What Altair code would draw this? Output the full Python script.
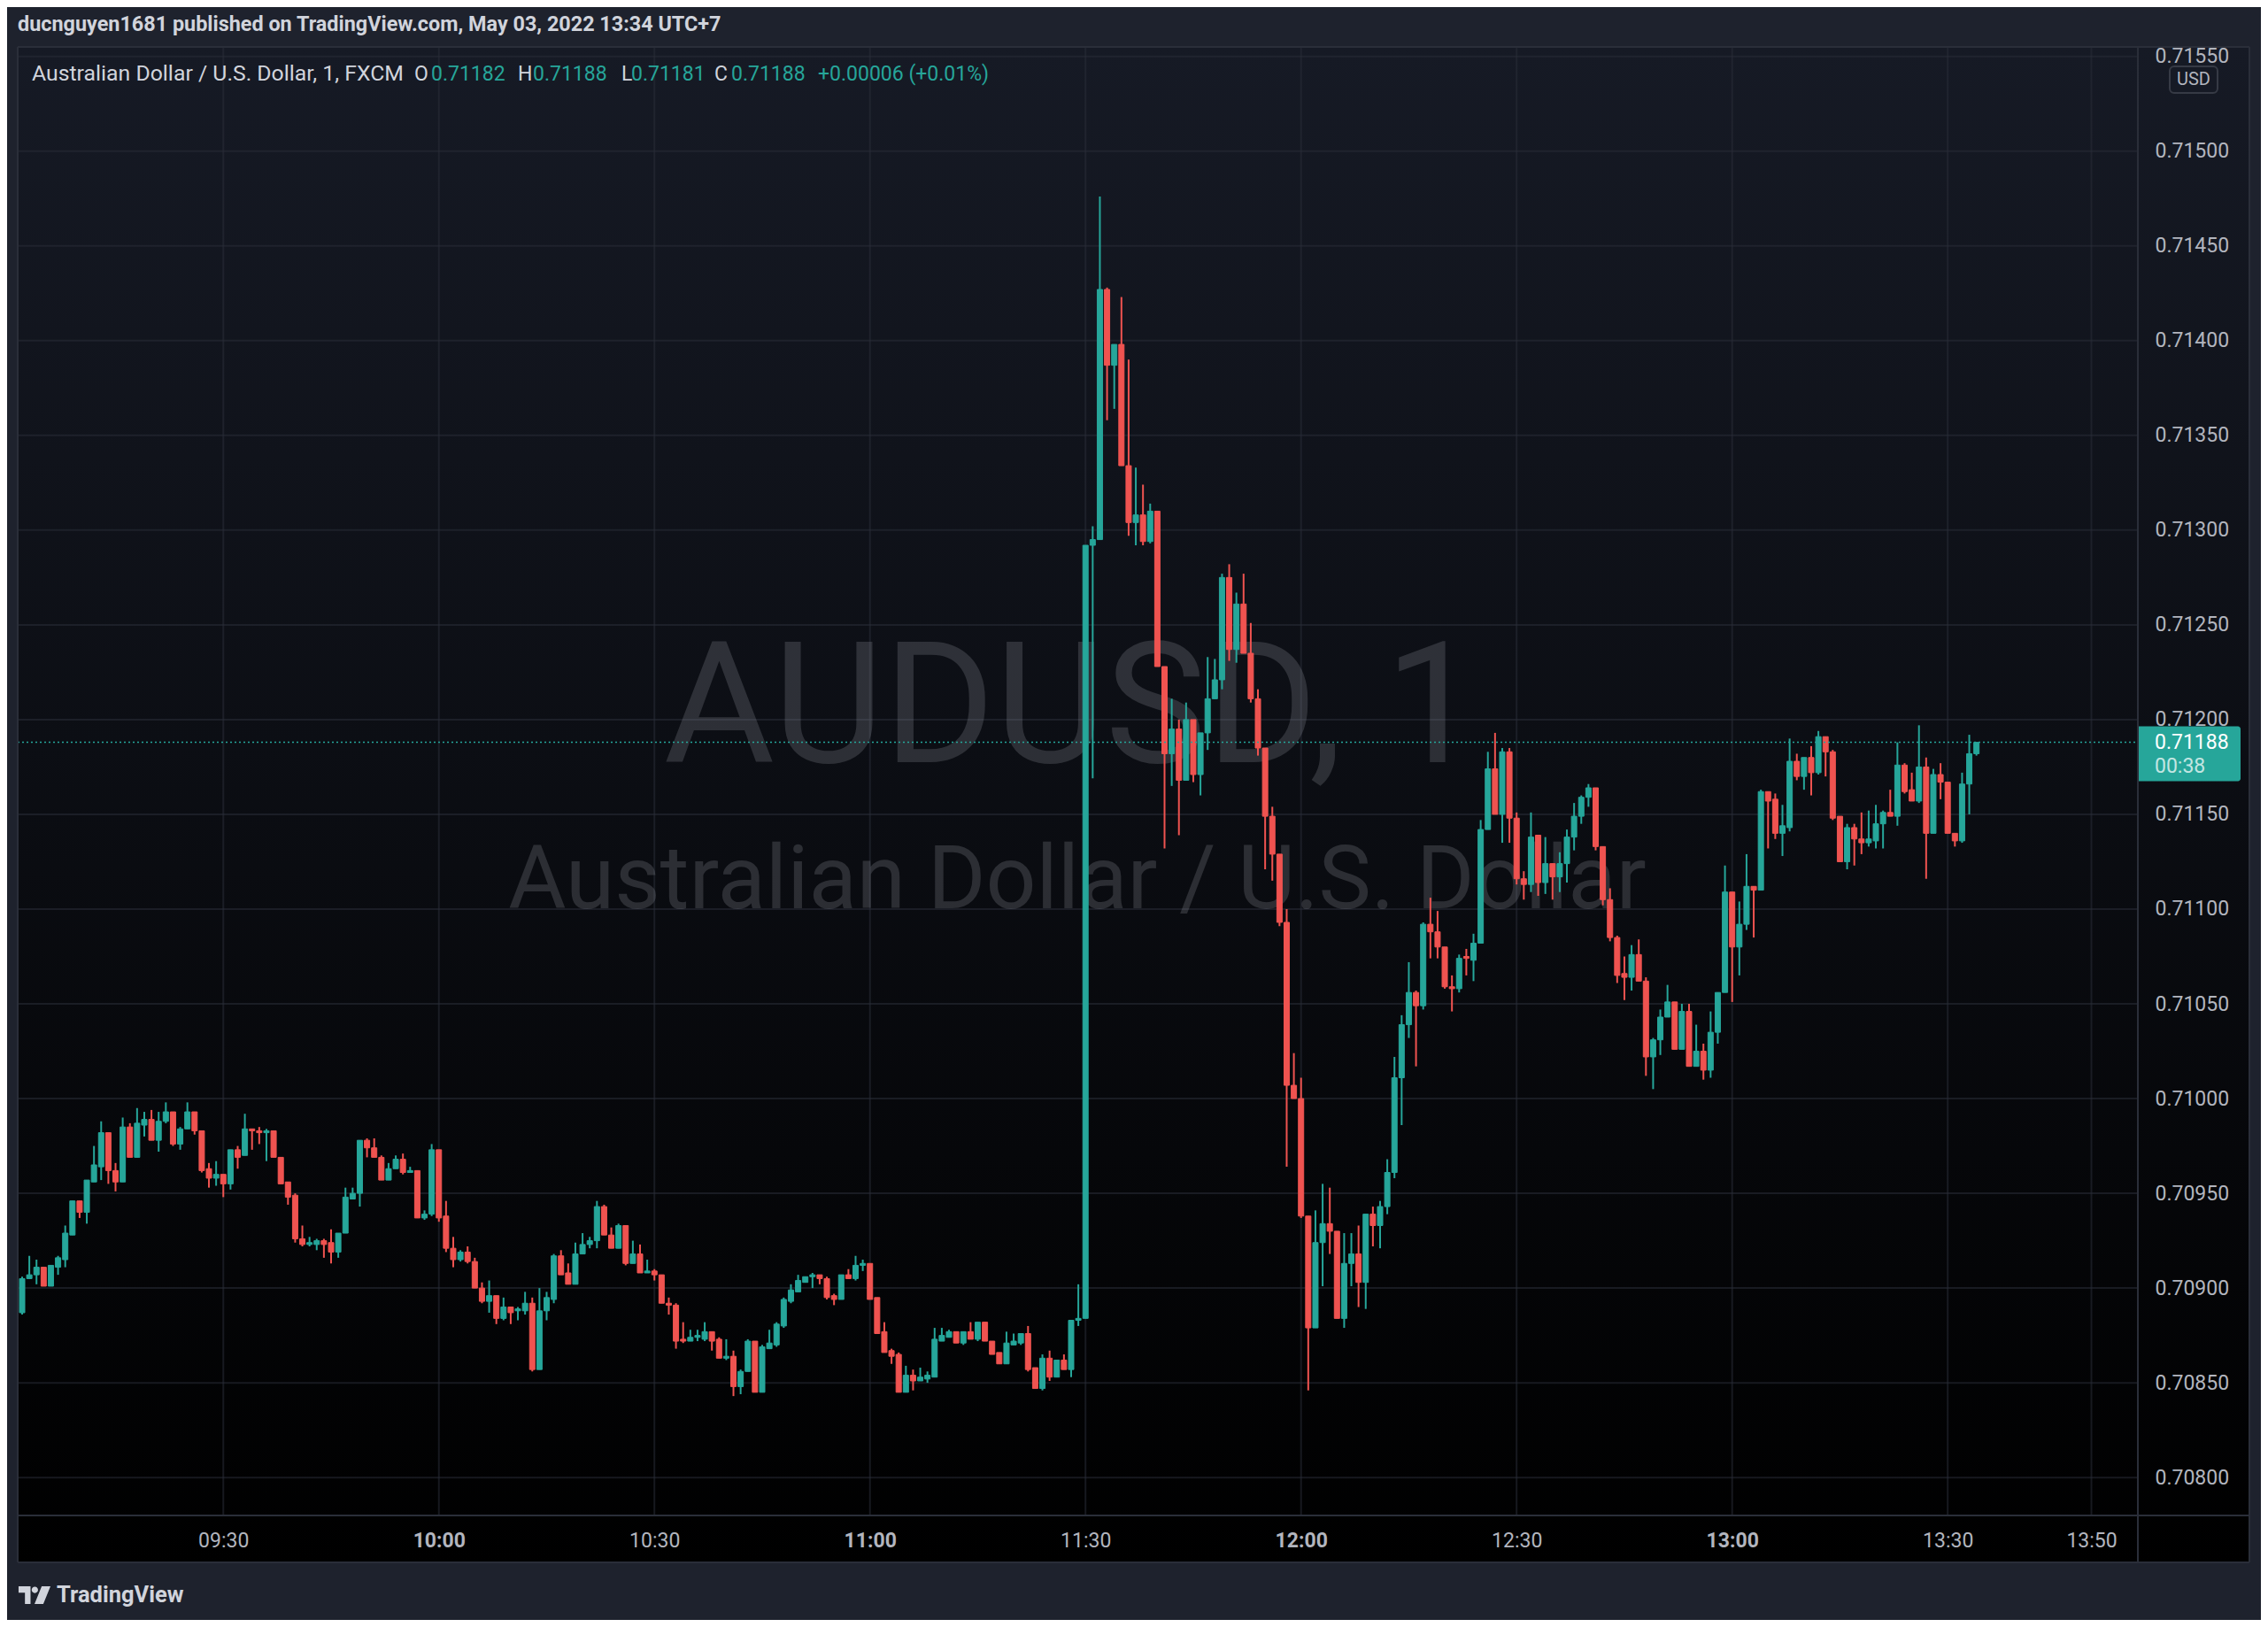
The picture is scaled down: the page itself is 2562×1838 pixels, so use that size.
import altair as alt
import pandas as pd
import numpy as np

# ---------------- data: AUDUSD 1-minute candles, 09:02 -> 13:34 ----------------
start_minute = 9 * 60 + 2  # 09:02

open_ = [
    0.70887, 0.70905, 0.70907, 0.70911, 0.70901, 0.70911, 0.70915, 0.70928, 0.70946, 0.70940,
    0.70956, 0.70964, 0.70982, 0.70962, 0.70956, 0.70985, 0.70969, 0.70986, 0.70989, 0.70978,
    0.70988, 0.70993, 0.70976, 0.70984, 0.70993, 0.70983, 0.70963, 0.70958, 0.70960, 0.70955,
    0.70973, 0.70970, 0.70984, 0.70983, 0.70982, 0.70983, 0.70969, 0.70956, 0.70949, 0.70926,
    0.70923, 0.70923, 0.70925, 0.70924, 0.70919, 0.70929, 0.70947, 0.70950, 0.70978, 0.70974,
    0.70969, 0.70957, 0.70963, 0.70968, 0.70961, 0.70962, 0.70937, 0.70939, 0.70973, 0.70938,
    0.70921, 0.70915, 0.70919, 0.70914, 0.70900, 0.70893, 0.70896, 0.70884, 0.70890, 0.70888,
    0.70888, 0.70892, 0.70857, 0.70888, 0.70894, 0.70917, 0.70908, 0.70902, 0.70918, 0.70923,
    0.70925, 0.70943, 0.70928, 0.70921, 0.70933, 0.70913, 0.70918, 0.70908, 0.70909, 0.70907,
    0.70892, 0.70891, 0.70873, 0.70872, 0.70874, 0.70873, 0.70877, 0.70873, 0.70863, 0.70864,
    0.70848, 0.70856, 0.70872, 0.70845, 0.70868, 0.70870, 0.70880, 0.70893, 0.70898, 0.70903,
    0.70906, 0.70907, 0.70905, 0.70896, 0.70894, 0.70907, 0.70905, 0.70912, 0.70913, 0.70895,
    0.70877, 0.70867, 0.70865, 0.70845, 0.70854, 0.70851, 0.70852, 0.70853, 0.70872, 0.70874,
    0.70877, 0.70871, 0.70877, 0.70873, 0.70882, 0.70872, 0.70866, 0.70860, 0.70870, 0.70871,
    0.70876, 0.70858, 0.70847, 0.70863, 0.70853, 0.70862, 0.70857, 0.70883, 0.70884, 0.71292,
    0.71295, 0.71427, 0.71387, 0.71398, 0.71334, 0.71304, 0.71308, 0.71294, 0.71310, 0.71228,
    0.71182, 0.71195, 0.71168, 0.71200, 0.71171, 0.71193, 0.71211, 0.71221, 0.71275, 0.71237,
    0.71261, 0.71235, 0.71211, 0.71185, 0.71149, 0.71129, 0.71093, 0.71007, 0.71000, 0.70938,
    0.70879, 0.70924, 0.70934, 0.70930, 0.70884, 0.70913, 0.70918, 0.70903, 0.70939, 0.70933,
    0.70943, 0.70961, 0.71011, 0.71039, 0.71056, 0.71049, 0.71092, 0.71088, 0.71080, 0.71059,
    0.71058, 0.71075, 0.71073, 0.71082, 0.71142, 0.71174, 0.71150, 0.71183, 0.71148, 0.71116,
    0.71113, 0.71139, 0.71114, 0.71124, 0.71117, 0.71124, 0.71138, 0.71149, 0.71159, 0.71164,
    0.71133, 0.71105, 0.71085, 0.71066, 0.71064, 0.71076, 0.71062, 0.71022, 0.71031, 0.71043,
    0.71051, 0.71026, 0.71046, 0.71017, 0.71025, 0.71015, 0.71035, 0.71056, 0.71109, 0.71080,
    0.71092, 0.71112, 0.71110, 0.71162, 0.71158, 0.71140, 0.71143, 0.71178, 0.71170, 0.71180,
    0.71172, 0.71191, 0.71183, 0.71149, 0.71125, 0.71143, 0.71137, 0.71135, 0.71136, 0.71145,
    0.71151, 0.71149, 0.71176, 0.71163, 0.71157, 0.71175, 0.71140, 0.71171, 0.71167, 0.71140,
    0.71136, 0.71166, 0.71182,
]

high = [
    0.70906, 0.70917, 0.70915, 0.70911, 0.70912, 0.70917, 0.70933, 0.70946, 0.70946, 0.70957,
    0.70975, 0.70988, 0.70982, 0.70966, 0.70990, 0.70987, 0.70995, 0.70993, 0.70994, 0.70993,
    0.70998, 0.70993, 0.70985, 0.70998, 0.70993, 0.70983, 0.70966, 0.70967, 0.70960, 0.70973,
    0.70975, 0.70992, 0.70984, 0.70985, 0.70984, 0.70983, 0.70969, 0.70956, 0.70950, 0.70933,
    0.70927, 0.70926, 0.70926, 0.70931, 0.70929, 0.70953, 0.70953, 0.70978, 0.70979, 0.70979,
    0.70970, 0.70966, 0.70970, 0.70971, 0.70964, 0.70962, 0.70941, 0.70976, 0.70973, 0.70946,
    0.70927, 0.70920, 0.70922, 0.70916, 0.70903, 0.70904, 0.70896, 0.70895, 0.70890, 0.70890,
    0.70898, 0.70895, 0.70900, 0.70898, 0.70918, 0.70920, 0.70913, 0.70924, 0.70929, 0.70927,
    0.70946, 0.70944, 0.70932, 0.70934, 0.70933, 0.70925, 0.70923, 0.70915, 0.70910, 0.70907,
    0.70895, 0.70892, 0.70882, 0.70878, 0.70878, 0.70882, 0.70877, 0.70874, 0.70873, 0.70867,
    0.70857, 0.70873, 0.70872, 0.70870, 0.70878, 0.70882, 0.70895, 0.70902, 0.70907, 0.70906,
    0.70908, 0.70907, 0.70906, 0.70897, 0.70907, 0.70910, 0.70917, 0.70915, 0.70913, 0.70895,
    0.70882, 0.70868, 0.70866, 0.70859, 0.70857, 0.70858, 0.70856, 0.70879, 0.70879, 0.70878,
    0.70877, 0.70877, 0.70882, 0.70882, 0.70882, 0.70872, 0.70866, 0.70877, 0.70876, 0.70876,
    0.70880, 0.70858, 0.70865, 0.70867, 0.70862, 0.70865, 0.70883, 0.70902, 0.71292, 0.71302,
    0.71476, 0.71428, 0.71398, 0.71423, 0.71390, 0.71333, 0.71324, 0.71314, 0.71310, 0.71228,
    0.71211, 0.71200, 0.71209, 0.71200, 0.71193, 0.71233, 0.71232, 0.71277, 0.71282, 0.71267,
    0.71277, 0.71251, 0.71216, 0.71185, 0.71154, 0.71129, 0.71100, 0.71024, 0.71011, 0.70938,
    0.70941, 0.70955, 0.70953, 0.70930, 0.70929, 0.70929, 0.70933, 0.70939, 0.70943, 0.70946,
    0.70968, 0.71022, 0.71044, 0.71072, 0.71057, 0.71093, 0.71106, 0.71099, 0.71080, 0.71065,
    0.71076, 0.71079, 0.71087, 0.71147, 0.71183, 0.71193, 0.71185, 0.71185, 0.71151, 0.71120,
    0.71151, 0.71139, 0.71138, 0.71124, 0.71130, 0.71142, 0.71156, 0.71160, 0.71166, 0.71164,
    0.71133, 0.71111, 0.71086, 0.71075, 0.71081, 0.71084, 0.71064, 0.71032, 0.71047, 0.71060,
    0.71051, 0.71050, 0.71050, 0.71039, 0.71029, 0.71046, 0.71056, 0.71123, 0.71109, 0.71104,
    0.71129, 0.71112, 0.71163, 0.71162, 0.71161, 0.71155, 0.71190, 0.71182, 0.71180, 0.71186,
    0.71194, 0.71191, 0.71184, 0.71149, 0.71145, 0.71145, 0.71151, 0.71152, 0.71155, 0.71152,
    0.71163, 0.71188, 0.71177, 0.71172, 0.71197, 0.71180, 0.71174, 0.71177, 0.71167, 0.71140,
    0.71172, 0.71192, 0.71188,
]

low = [
    0.70886, 0.70905, 0.70902, 0.70901, 0.70901, 0.70907, 0.70911, 0.70928, 0.70937, 0.70934,
    0.70956, 0.70957, 0.70955, 0.70951, 0.70956, 0.70969, 0.70969, 0.70980, 0.70978, 0.70972,
    0.70987, 0.70975, 0.70973, 0.70984, 0.70981, 0.70961, 0.70953, 0.70954, 0.70948, 0.70952,
    0.70963, 0.70970, 0.70973, 0.70976, 0.70967, 0.70969, 0.70955, 0.70944, 0.70924, 0.70922,
    0.70922, 0.70920, 0.70916, 0.70913, 0.70916, 0.70929, 0.70947, 0.70943, 0.70969, 0.70969,
    0.70957, 0.70957, 0.70963, 0.70960, 0.70961, 0.70937, 0.70936, 0.70938, 0.70935, 0.70919,
    0.70911, 0.70914, 0.70913, 0.70900, 0.70892, 0.70887, 0.70881, 0.70883, 0.70881, 0.70883,
    0.70886, 0.70856, 0.70857, 0.70883, 0.70892, 0.70907, 0.70902, 0.70902, 0.70918, 0.70921,
    0.70921, 0.70928, 0.70921, 0.70921, 0.70912, 0.70913, 0.70908, 0.70908, 0.70904, 0.70892,
    0.70886, 0.70868, 0.70871, 0.70872, 0.70872, 0.70872, 0.70867, 0.70863, 0.70862, 0.70843,
    0.70844, 0.70856, 0.70845, 0.70845, 0.70868, 0.70869, 0.70879, 0.70892, 0.70898, 0.70903,
    0.70900, 0.70902, 0.70894, 0.70891, 0.70894, 0.70905, 0.70904, 0.70909, 0.70894, 0.70876,
    0.70866, 0.70860, 0.70845, 0.70845, 0.70846, 0.70851, 0.70850, 0.70853, 0.70872, 0.70874,
    0.70871, 0.70870, 0.70873, 0.70872, 0.70872, 0.70865, 0.70860, 0.70860, 0.70870, 0.70870,
    0.70856, 0.70847, 0.70846, 0.70851, 0.70853, 0.70857, 0.70853, 0.70880, 0.70884, 0.71169,
    0.71295, 0.71358, 0.71364, 0.71334, 0.71297, 0.71292, 0.71292, 0.71293, 0.71228, 0.71132,
    0.71165, 0.71139, 0.71168, 0.71167, 0.71160, 0.71184, 0.71211, 0.71216, 0.71231, 0.71230,
    0.71235, 0.71209, 0.71181, 0.71121, 0.71115, 0.71091, 0.70964, 0.71000, 0.70937, 0.70846,
    0.70879, 0.70901, 0.70918, 0.70884, 0.70879, 0.70901, 0.70890, 0.70889, 0.70922, 0.70921,
    0.70939, 0.70958, 0.70986, 0.71032, 0.71017, 0.71047, 0.71074, 0.71074, 0.71058, 0.71046,
    0.71056, 0.71065, 0.71062, 0.71082, 0.71142, 0.71150, 0.71135, 0.71135, 0.71113, 0.71105,
    0.71109, 0.71107, 0.71108, 0.71105, 0.71109, 0.71114, 0.71131, 0.71145, 0.71154, 0.71131,
    0.71102, 0.71083, 0.71061, 0.71052, 0.71057, 0.71062, 0.71012, 0.71005, 0.71023, 0.71043,
    0.71026, 0.71026, 0.71017, 0.71017, 0.71010, 0.71011, 0.71029, 0.71056, 0.71051, 0.71065,
    0.71089, 0.71085, 0.71110, 0.71132, 0.71137, 0.71128, 0.71141, 0.71168, 0.71163, 0.71160,
    0.71171, 0.71170, 0.71147, 0.71125, 0.71121, 0.71123, 0.71129, 0.71133, 0.71132, 0.71132,
    0.71149, 0.71144, 0.71161, 0.71157, 0.71156, 0.71116, 0.71140, 0.71158, 0.71140, 0.71133,
    0.71135, 0.71150, 0.71181,
]

close = [
    0.70905, 0.70907, 0.70911, 0.70901, 0.70912, 0.70916, 0.70929, 0.70946, 0.70940, 0.70957,
    0.70965, 0.70982, 0.70962, 0.70956, 0.70985, 0.70969, 0.70987, 0.70989, 0.70978, 0.70988,
    0.70993, 0.70976, 0.70984, 0.70993, 0.70983, 0.70962, 0.70958, 0.70960, 0.70955, 0.70973,
    0.70969, 0.70984, 0.70983, 0.70982, 0.70983, 0.70969, 0.70955, 0.70948, 0.70926, 0.70923,
    0.70924, 0.70925, 0.70923, 0.70919, 0.70929, 0.70948, 0.70950, 0.70978, 0.70974, 0.70969,
    0.70957, 0.70963, 0.70968, 0.70961, 0.70962, 0.70937, 0.70939, 0.70973, 0.70937, 0.70921,
    0.70915, 0.70919, 0.70914, 0.70900, 0.70893, 0.70896, 0.70884, 0.70890, 0.70887, 0.70889,
    0.70892, 0.70857, 0.70888, 0.70895, 0.70917, 0.70907, 0.70902, 0.70918, 0.70923, 0.70925,
    0.70943, 0.70928, 0.70921, 0.70933, 0.70913, 0.70918, 0.70908, 0.70909, 0.70907, 0.70892,
    0.70891, 0.70872, 0.70872, 0.70874, 0.70875, 0.70877, 0.70872, 0.70863, 0.70864, 0.70848,
    0.70856, 0.70872, 0.70845, 0.70869, 0.70871, 0.70881, 0.70894, 0.70899, 0.70904, 0.70906,
    0.70907, 0.70905, 0.70895, 0.70894, 0.70907, 0.70905, 0.70912, 0.70913, 0.70894, 0.70876,
    0.70866, 0.70864, 0.70845, 0.70854, 0.70851, 0.70853, 0.70854, 0.70873, 0.70875, 0.70877,
    0.70871, 0.70877, 0.70873, 0.70882, 0.70872, 0.70865, 0.70860, 0.70871, 0.70872, 0.70876,
    0.70857, 0.70847, 0.70863, 0.70853, 0.70862, 0.70857, 0.70883, 0.70884, 0.71292, 0.71295,
    0.71427, 0.71387, 0.71398, 0.71334, 0.71304, 0.71308, 0.71294, 0.71310, 0.71228, 0.71182,
    0.71195, 0.71168, 0.71200, 0.71171, 0.71193, 0.71211, 0.71221, 0.71275, 0.71237, 0.71261,
    0.71235, 0.71211, 0.71185, 0.71149, 0.71129, 0.71093, 0.71007, 0.71000, 0.70938, 0.70879,
    0.70924, 0.70934, 0.70930, 0.70884, 0.70913, 0.70918, 0.70903, 0.70939, 0.70933, 0.70943,
    0.70961, 0.71011, 0.71039, 0.71056, 0.71049, 0.71092, 0.71088, 0.71080, 0.71059, 0.71058,
    0.71074, 0.71074, 0.71082, 0.71142, 0.71174, 0.71150, 0.71183, 0.71148, 0.71116, 0.71113,
    0.71138, 0.71114, 0.71124, 0.71117, 0.71124, 0.71138, 0.71149, 0.71159, 0.71164, 0.71133,
    0.71105, 0.71085, 0.71065, 0.71064, 0.71076, 0.71062, 0.71022, 0.71031, 0.71043, 0.71051,
    0.71026, 0.71046, 0.71017, 0.71025, 0.71015, 0.71035, 0.71056, 0.71109, 0.71080, 0.71092,
    0.71112, 0.71110, 0.71162, 0.71157, 0.71140, 0.71144, 0.71178, 0.71170, 0.71180, 0.71172,
    0.71191, 0.71183, 0.71148, 0.71125, 0.71143, 0.71137, 0.71135, 0.71137, 0.71145, 0.71151,
    0.71149, 0.71176, 0.71162, 0.71157, 0.71175, 0.71140, 0.71171, 0.71167, 0.71140, 0.71136,
    0.71166, 0.71182, 0.71188,
]

# axis tick labels
time_ticks = [570, 600, 630, 660, 690, 720, 750, 780, 810, 830]   # minutes of day: 09:30 ... 13:30, 13:50
price_ticks = [0.70800, 0.70850, 0.70900, 0.70950, 0.71000, 0.71050, 0.71100, 0.71150,
               0.71200, 0.71250, 0.71300, 0.71350, 0.71400, 0.71450, 0.71500, 0.71550]

symbol_name = "Australian Dollar / U.S. Dollar"
header_text = "ducnguyen1681 published on TradingView.com, May 03, 2022 13:34 UTC+7"
countdown_text = "00:38"

# ---------------- frame ----------------
n = min(len(open_), len(high), len(low), len(close))
df = pd.DataFrame({
    "t": list(range(start_minute, start_minute + n)),
    "open": open_[:n], "high": high[:n], "low": low[:n], "close": close[:n],
})
df["dir"] = np.where(df["close"] >= df["open"], "up", "down")

UP, DOWN = "#26a69a", "#ef5350"
W, H = 2395, 1659
AXW, AXH = 126, 53          # price-scale width, time-scale height
GRID = "#2a2e39"
TEXT = "#d1d4dc"
AXTXT = "#b2b5be"
FONT = "Roboto"

xscale = alt.Scale(domain=[542.0, 835.85], nice=False, zero=False)
yscale = alt.Scale(domain=[0.70780, 0.71555], nice=False, zero=False)

label_expr = ("(datum.value < 600 ? '0' : '') + floor(datum.value / 60) + ':' + "
              "(datum.value % 60 < 10 ? '0' : '') + (datum.value % 60)")
x_axis = alt.Axis(values=time_ticks, labelExpr=label_expr, title=None, grid=False,
                  ticks=False, tickSize=0, domain=False, labelColor=AXTXT, labelFont=FONT,
                  labelFontSize=23, labelPadding=28, labelBaseline="middle",
                  labelFlush=False, labelOverlap=False, zindex=1,
                  labelFontWeight={"condition": {"test": "datum.value % 60 === 0", "value": "bold"},
                                   "value": "normal"})
y_axis = alt.Axis(orient="right", values=price_ticks, format=".5f", title=None, grid=False,
                  ticks=False, tickSize=0, domain=False, labelColor=AXTXT, labelFont=FONT,
                  labelFontSize=23, labelPadding=19, labelFlush=False, labelOverlap=False,
                  zindex=1)


def X(f):
    return alt.X(f, type="quantitative", scale=xscale, axis=x_axis)


def Y(f):
    return alt.Y(f, type="quantitative", scale=yscale, axis=y_axis)


one = pd.DataFrame({"a": [0]})
color_scale = alt.Scale(domain=["up", "down"], range=[UP, DOWN])

# background gradient (pane + price/time scales)
bg = alt.Chart(one).mark_rect(
    color=alt.LinearGradient(gradient="linear",
                             stops=[alt.GradientStop(color="#161a25", offset=0),
                                    alt.GradientStop(color="#000000", offset=1)],
                             x1=0, x2=0, y1=0, y2=1)
).encode(x=alt.value(0), x2=alt.value(W + AXW), y=alt.value(0), y2=alt.value(H + AXH))

vgrid = alt.Chart(pd.DataFrame({"t": time_ticks})).mark_rule(
    color=GRID, opacity=0.55, strokeWidth=2
).encode(x=X("t"), y=alt.value(0), y2=alt.value(H))

hgrid = alt.Chart(pd.DataFrame({"p": price_ticks})).mark_rule(
    color=GRID, opacity=0.55, strokeWidth=2, clip=True
).encode(y=Y("p"), x=alt.value(0), x2=alt.value(W))

wm1 = alt.Chart(one).mark_text(
    text="AUDUSD, 1", font=FONT, fontSize=192, color=AXTXT, opacity=0.2,
    align="center", baseline="alphabetic"
).encode(x=alt.value(1191), y=alt.value(808))
wm2 = alt.Chart(one).mark_text(
    text=symbol_name, font=FONT, fontSize=100, color=AXTXT, opacity=0.2,
    align="center", baseline="alphabetic"
).encode(x=alt.value(1197), y=alt.value(973))

wicks = alt.Chart(df).mark_rule(strokeWidth=2, clip=True).encode(
    x=X("t"), y=Y("low"), y2="high",
    color=alt.Color("dir:N", scale=color_scale, legend=None))

bodies = alt.Chart(df).mark_bar(size=6, strokeWidth=1, clip=True).encode(
    x=X("t"), y=Y("open"), y2="close",
    color=alt.Color("dir:N", scale=color_scale, legend=None),
    stroke=alt.Stroke("dir:N", scale=color_scale, legend=None))

last = pd.DataFrame({"p": [close[n - 1]]})
price_line = alt.Chart(last).mark_rule(
    color=UP, strokeDash=[2, 3], strokeWidth=1.5
).encode(y=Y("p"), x=alt.value(0), x2=alt.value(W))

price_box = alt.Chart(last).mark_rect(
    color=UP, yOffset=-18, y2Offset=44, cornerRadiusTopRight=3, cornerRadiusBottomRight=3
).encode(y=Y("p"), y2="p", x=alt.value(W), x2=alt.value(W + 116))

price_txt = alt.Chart(last).mark_text(
    font=FONT, fontSize=23, color="#ffffff", align="left", baseline="middle"
).encode(y=Y("p"), x=alt.value(W + 19), text=alt.Text("p:Q", format=".5f"))

count_txt = alt.Chart(last).mark_text(
    text=countdown_text, font=FONT, fontSize=23, color="#ffffff", opacity=0.72,
    align="left", baseline="middle", dy=27
).encode(y=Y("p"), x=alt.value(W + 19))

# frame borders
def hline(y):
    return alt.Chart(one).mark_rule(color=GRID, strokeWidth=2).encode(
        x=alt.value(0), x2=alt.value(W + AXW), y=alt.value(y))


def vline(x):
    return alt.Chart(one).mark_rule(color=GRID, strokeWidth=2).encode(
        x=alt.value(x), y=alt.value(0), y2=alt.value(H + AXH))


borders = [hline(0), hline(H), hline(H + AXH), vline(0), vline(W), vline(W + AXW)]

# USD badge on price scale
usd_box = alt.Chart(one).mark_rect(
    fill="#161a25", stroke="#363a45", strokeWidth=2, cornerRadius=5
).encode(x=alt.value(2431), x2=alt.value(2485), y=alt.value(22), y2=alt.value(52))
usd_txt = alt.Chart(one).mark_text(
    text="USD", font=FONT, fontSize=20, color=AXTXT, align="center", baseline="middle"
).encode(x=alt.value(2458), y=alt.value(37))

# header + legend
header = alt.Chart(one).mark_text(
    text=header_text, font=FONT, fontSize=23.4, fontWeight="bold", color=TEXT,
    align="left", baseline="alphabetic"
).encode(x=alt.value(0), y=alt.value(-18))

o, h, l, c = open_[n - 1], high[n - 1], low[n - 1], close[n - 1]
chg = c - close[n - 2]
pct = chg / close[n - 2] * 100
legend_parts = [
    (16, symbol_name + ", 1, FXCM", TEXT, 24.8),
    (448, "O", TEXT, 23), (467, f"{o:.5f}", UP, 23),
    (565, "H", TEXT, 23), (582, f"{h:.5f}", UP, 23),
    (682, "L", TEXT, 23), (693, f"{l:.5f}", UP, 23),
    (787, "C", TEXT, 23), (806, f"{c:.5f}", UP, 23),
    (904, f"{chg:+.5f} ({pct:+.2f}%)", UP, 23),
]
legend_layers = [
    alt.Chart(one).mark_text(text=txt, font=FONT, fontSize=fs, color=col,
                             align="left", baseline="alphabetic"
                             ).encode(x=alt.value(px), y=alt.value(38))
    for px, txt, col, fs in legend_parts
]

# footer: TradingView logo + wordmark
logo_path = ("M-1,-0.55 L-0.25,-0.55 L-0.25,0.55 L-0.6,0.55 L-0.6,-0.15 L-1,-0.15 Z "
             "M-0.18,-0.33 A0.2,0.2 0 1,0 0.22,-0.33 A0.2,0.2 0 1,0 -0.18,-0.33 Z "
             "M0.45,-0.55 L1,-0.55 L0.55,0.55 L0,0.55 Z")
logo = alt.Chart(one).mark_point(
    shape=logo_path, filled=True, size=1300, color=TEXT, opacity=1, strokeWidth=0
).encode(x=alt.value(19), y=alt.value(1749))
wordmark = alt.Chart(one).mark_text(
    text="TradingView", font=FONT, fontSize=25.5, fontWeight="bold", color=TEXT,
    align="left", baseline="middle"
).encode(x=alt.value(44), y=alt.value(1749))

chart = alt.layer(
    bg, vgrid, hgrid, wm1, wm2, wicks, bodies, price_line, price_box, price_txt, count_txt,
    *borders, usd_box, usd_txt, header, *legend_layers, logo, wordmark
).properties(
    width=W, height=H,
    autosize=alt.AutoSizeParams(type="none"),
    padding={"left": 12, "top": 45, "right": 139, "bottom": 118},
    background="#1e222d",
).configure_view(strokeWidth=0)

chart.save("out.html", embed_options={"renderer": "svg", "actions": False})
